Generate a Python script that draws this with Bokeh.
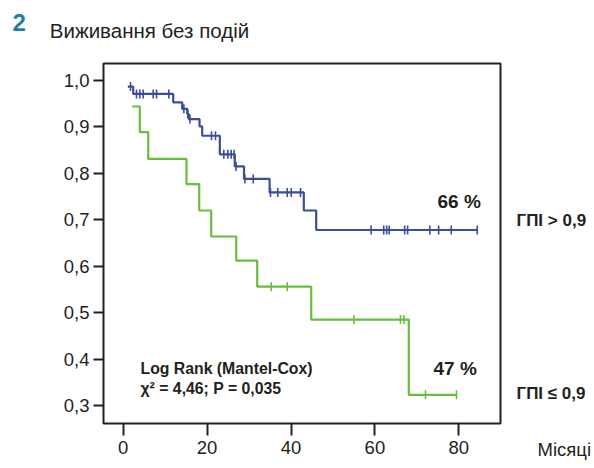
import numpy as np
from bokeh.plotting import figure
from bokeh.models import (Range1d, Label, FixedTicker, CustomJSTickFormatter,
                          LinearAxis, Title)
from bokeh.embed import file_html
from bokeh.resources import INLINE

# ---------------- data ----------------
month_ticks = [0, 20, 40, 60, 80]
surv_ticks = [0.3, 0.4, 0.5, 0.6, 0.7, 0.8, 0.9, 1.0]

# group "ГПІ > 0,9" (blue): step start times and survival after each step
hi_times = [1.1, 2.38, 11.92, 14.06, 15.26, 15.64, 18.19, 18.83, 23.03, 26.6,
            28.8, 34.9, 43.05, 46.0, 84.4]
hi_surv = [0.987, 0.971, 0.953, 0.939, 0.928, 0.917, 0.901, 0.881, 0.841, 0.815,
           0.788, 0.759, 0.720, 0.678, 0.678]
hi_censor = [1.74, 3.17, 3.96, 4.77, 7.15, 7.94, 10.87, 14.45, 15.4, 15.9,
             21.05, 22.0, 23.98, 24.93, 25.74, 26.45, 26.9, 29.0, 31.0,
             35.1, 36.85, 39.1, 40.05, 42.27, 59.1, 62.1, 62.8, 63.4,
             67.1, 67.8, 73.1, 75.2, 78.2, 84.4]

# group "ГПІ ≤ 0,9" (green)
lo_times = [2.15, 3.96, 5.96, 15.09, 18.12, 20.98, 26.94, 31.94, 44.82, 68.08, 79.45]
lo_surv = [0.944, 0.889, 0.831, 0.777, 0.720, 0.664, 0.612, 0.556, 0.485, 0.323, 0.323]
lo_censor = [35.28, 39.09, 54.97, 66.1, 66.9, 72.06, 79.45]

group_labels = ["ГПІ ≤ 0,9", "ГПІ > 0,9"]
hi_pct, lo_pct = "66 %", "47 %"
title_txt = "Виживання без подій"
fig_no = "2"
xlab = "Місяці"
stat1 = "Log Rank (Mantel-Cox)"
stat2 = "χ² = 4,46; P = 0,035"

# ---------------- layout ----------------
X0, X1 = -4.70, 89.94
Y0, Y1 = 0.2612, 1.0366
FL, FT, FW, FH = 103, 63, 397, 360   # frame in page pixels
XPU = FW / (X1 - X0)
YPU = FH / (Y1 - Y0)


def px2x(px):
    return X0 + (px - FL) / XPU


def py2y(py):
    return Y1 - (py - FT) / YPU


BLUE = "#3a4c9e"
GREEN = "#6abd3c"
INK = "#231f20"
TEAL = "#1b7fa3"
FONT = "Liberation Sans"

p = figure(width=594, height=468, output_backend="svg", toolbar_location=None,
           x_range=Range1d(X0, X1), y_range=Range1d(Y0, Y1),
           min_border_left=103, min_border_right=94, min_border_top=63,
           min_border_bottom=45)
p.background_fill_color = "white"
p.border_fill_color = "white"
p.outline_line_color = INK
p.outline_line_width = 2
p.outline_line_alpha = 1
p.grid.visible = False

for ax in (p.xaxis[0], p.yaxis[0]):
    ax.axis_line_color = None
    ax.major_tick_line_color = INK
    ax.major_tick_line_width = 2
    ax.minor_tick_line_color = None
    ax.major_tick_in = 0
    ax.major_label_text_font = FONT
    ax.major_label_text_font_size = "18.5px"
    ax.major_label_text_color = INK
p.xaxis.ticker = FixedTicker(ticks=month_ticks)
p.yaxis.ticker = FixedTicker(ticks=surv_ticks)
p.yaxis.formatter = CustomJSTickFormatter(code="return tick.toFixed(1).replace('.', ',');")
p.xaxis.major_tick_out = 12
p.yaxis.major_tick_out = 10
p.xaxis.major_label_standoff = 5
p.yaxis.major_label_standoff = 4

# right-hand group names drawn as a tick-label-only axis
p.extra_y_ranges = {"names": Range1d(Y0, Y1)}
name_axis = LinearAxis(y_range_name="names",
                       ticker=FixedTicker(ticks=[py2y(393), py2y(220)]),
                       formatter=CustomJSTickFormatter(
                           args=dict(names=group_labels),
                           code="return names[index];"),
                       axis_line_color=None, major_tick_line_color=None,
                       minor_tick_line_color=None, major_tick_out=0,
                       major_tick_in=0, major_label_standoff=16,
                       major_label_text_font=FONT,
                       major_label_text_font_size="17px",
                       major_label_text_font_style="bold",
                       major_label_text_color=INK)
p.add_layout(name_axis, "right")

# heading drawn as a tick-label-only axis above the frame
p.extra_x_ranges = {"head": Range1d(X0, X1)}
head_axis = LinearAxis(x_range_name="head",
                       ticker=FixedTicker(ticks=[px2x(149)]),
                       formatter=CustomJSTickFormatter(
                           args=dict(t=title_txt), code="return t;"),
                       axis_line_color=None, major_tick_line_color=None,
                       minor_tick_line_color=None, major_tick_out=0,
                       major_tick_in=0, major_label_standoff=22,
                       major_label_text_font=FONT,
                       major_label_text_font_size="20.5px",
                       major_label_text_font_style="normal",
                       major_label_text_color=INK)
p.add_layout(head_axis, "above")

# panel number as the figure title (outermost item above the frame)
p.title.text = fig_no
p.title.align = "left"
p.title.offset = -91
p.title.vertical_align = "bottom"
p.title.standoff = -30
p.title.text_font = FONT
p.title.text_font_size = "24px"
p.title.text_font_style = "bold"
p.title.text_color = TEAL

# axis caption at lower right
p.add_layout(Title(text=xlab, align="left", offset=434, standoff=-35,
                   vertical_align="top",
                   text_font=FONT, text_font_size="18.5px",
                   text_font_style="normal", text_color=INK), "below")


def level_at(times, surv, t):
    idx = np.searchsorted(np.array(times), np.array(t), side="right") - 1
    return list(np.array(surv)[np.clip(idx, 0, len(surv) - 1)])


p.step(hi_times, hi_surv, mode="after", line_color=BLUE, line_width=2.2)
p.step(lo_times, lo_surv, mode="after", line_color=GREEN, line_width=2.2)
p.scatter(hi_censor, level_at(hi_times, hi_surv, hi_censor), marker="dash",
          angle=np.pi / 2, size=9, line_color=BLUE, line_width=1.6)
p.scatter(lo_censor, level_at(lo_times, lo_surv, lo_censor), marker="dash",
          angle=np.pi / 2, size=9, line_color=GREEN, line_width=1.6)


def add_text(txt, px, py, size, bold=False, color=INK):
    p.add_layout(Label(x=px2x(px), y=py2y(py), text=txt, text_font=FONT,
                       text_font_size=size, text_color=color,
                       text_font_style="bold" if bold else "normal",
                       text_align="left", text_baseline="middle"))


add_text(hi_pct, 437, 201, "19px", bold=True)
add_text(lo_pct, 433, 367.5, "19px", bold=True)
add_text(stat1, 140, 368, "15.8px", bold=True)
add_text(stat2, 140, 388, "15.8px", bold=True)

open("out.html", "w").write(file_html(p, INLINE))
